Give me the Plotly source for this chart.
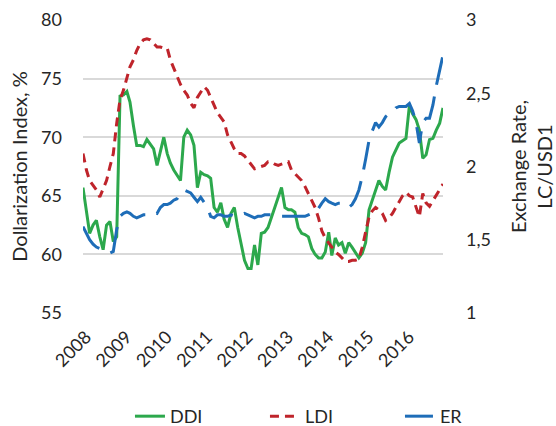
import pandas as pd
import plotly.graph_objects as go

months = pd.date_range("2008-01-01", "2016-12-01", freq="MS")

ddi = [65.7, 63.5, 61.8, 62.5, 62.9, 61.5, 60.4, 62.5, 62.8, 61.1, 61.5, 73.5,
       73.6, 73.9, 73.0, 71.0, 69.3, 69.3, 69.2, 69.8, 69.4, 69.0, 67.6, 68.8,
       70.0, 68.6, 67.8, 67.2, 66.8, 66.3, 70.0, 70.6, 70.2, 69.3, 65.7, 67.0,
       66.8, 66.7, 66.5, 64.0, 63.6, 64.4, 63.0, 62.3, 63.5, 64.0, 62.3, 61.0,
       59.5, 58.8, 58.8, 60.8, 59.1, 61.8, 61.9, 62.3, 63.2, 64.0, 64.9, 65.7,
       64.0, 63.8, 63.8, 63.6, 62.3, 61.8, 61.7, 61.5, 60.5, 60.0, 59.7, 59.7,
       60.2, 61.9, 59.9, 61.4, 60.8, 61.0, 60.1, 61.0, 60.6, 60.1, 59.7, 60.1,
       61.0, 63.8, 64.6, 65.5, 66.3, 65.8, 65.5, 67.0, 68.3, 68.9, 69.5, 69.7,
       69.9, 72.7, 72.0, 71.5, 70.6, 68.2, 68.5, 69.8, 69.9, 70.6, 71.2, 72.5]

ldi = [68.6, 67.2, 66.3, 65.9, 65.5, 64.9, 65.6, 66.3, 67.5, 68.6, 71.2, 73.2,
       74.0, 75.0, 76.0, 76.6, 77.4, 78.0, 78.3, 78.4, 78.3, 78.0, 77.7, 77.7,
       77.6, 77.6, 76.6, 75.9, 75.2, 74.5, 74.0, 73.6, 72.9, 72.5, 73.4, 73.9,
       74.3, 74.0, 73.4, 72.8, 72.1, 71.7, 71.3, 70.2, 69.6, 69.0, 68.6, 68.6,
       68.4, 68.0, 67.6, 67.3, 67.4, 67.5, 67.6, 67.9, 67.9, 67.7, 67.6, 67.7,
       67.8, 67.9, 67.2, 66.9, 66.6, 66.3, 65.8, 65.2, 64.6, 64.0, 63.1, 62.0,
       61.4, 61.0, 60.6, 60.2, 60.0, 59.7, 59.4, 59.4, 59.5, 59.5, 59.6, 60.6,
       62.0, 63.2, 63.7, 64.0, 63.8, 63.5, 62.9, 63.1, 63.5, 64.0, 64.6, 65.0,
       65.3, 65.0, 64.9, 64.0, 63.2, 65.2, 64.4, 64.1, 64.6, 65.0, 65.6, 66.0]

er = [1.59, 1.54, 1.50, 1.47, 1.45, 1.44, 1.43, 1.42, 1.41, 1.42, 1.57, 1.66,
      1.68, 1.69, 1.68, 1.66, 1.65, 1.66, 1.67, 1.67, 1.68, 1.69, 1.68, 1.72,
      1.74, 1.74, 1.75, 1.77, 1.78, 1.82, 1.84, 1.83, 1.82, 1.79, 1.76, 1.79,
      1.75, 1.72, 1.66, 1.65, 1.67, 1.67, 1.66, 1.66, 1.67, 1.66, 1.66, 1.67,
      1.68, 1.67, 1.66, 1.65, 1.66, 1.66, 1.67, 1.67, 1.67, 1.67, 1.67, 1.66,
      1.66, 1.66, 1.66, 1.66, 1.66, 1.66, 1.66, 1.67, 1.68, 1.68, 1.72, 1.75,
      1.78, 1.76, 1.75, 1.74, 1.75, 1.75, 1.73, 1.72, 1.74, 1.78, 1.84, 1.93,
      2.05, 2.18, 2.24, 2.30, 2.27, 2.30, 2.34, 2.36, 2.37, 2.40, 2.41, 2.41,
      2.41, 2.43, 2.38, 2.30, 2.16, 2.30, 2.33, 2.33, 2.42, 2.55, 2.66, 2.76]

year_ticks = pd.date_range("2008-01-01", "2016-01-01", freq="YS")
year_labels = [str(d.year) for d in year_ticks]
left_ticks = [55, 60, 65, 70, 75, 80]
right_ticks = [1, 1.5, 2, 2.5, 3]
right_labels = ["1", "1,5", "2", "2,5", "3"]

FONT = "Lato"
TXT = "#262626"

fig = go.Figure()
fig.add_trace(go.Scatter(x=months, y=ddi, name="DDI", mode="lines",
                         line=dict(color="#2CA84C", width=3)))
fig.add_trace(go.Scatter(x=months, y=ldi, name="LDI", mode="lines",
                         line=dict(color="#BF242B", width=3, dash="9px,6px")))
fig.add_trace(go.Scatter(x=months, y=er, name="ER", mode="lines", yaxis="y2",
                         line=dict(color="#1E6DB8", width=3, dash="28px,12px")))

fig.update_layout(
    width=556, height=426,
    margin=dict(l=83, r=113, t=20, b=113, autoexpand=False),
    paper_bgcolor="white", plot_bgcolor="white",
    font=dict(family=FONT, size=18, color=TXT),
    showlegend=True,
    legend=dict(orientation="h", x=-0.0001, xanchor="left", y=-0.29, yanchor="top",
                indentation=47, entrywidth=43, entrywidthmode="pixels",
                font=dict(size=18, color=TXT), bgcolor="rgba(0,0,0,0)"),
    xaxis=dict(type="date", range=[months[0], months[-1]],
               tickvals=year_ticks, ticktext=year_labels, tickangle=-45,
               showgrid=False, zeroline=False, showline=False,
               ticks="", ticklabelstandoff=9, ticklabelshift=3,
               tickfont=dict(size=18, color=TXT)),
    yaxis=dict(range=[55, 80], tickvals=left_ticks, showgrid=True,
               gridcolor="#D9D9D9", gridwidth=2, zeroline=False, showline=False,
               ticks="", ticklabelstandoff=20,
               title=dict(text="Dollarization Index, %", standoff=8,
                          font=dict(size=20, color=TXT)),
               tickfont=dict(size=18, color=TXT)),
    yaxis2=dict(range=[1, 3], tickvals=right_ticks, ticktext=right_labels,
                overlaying="y", side="right", showgrid=False, zeroline=False,
                showline=False, ticks="", ticklabelstandoff=22,
                title=dict(text="Exchange Rate,<br>LC/USD1", standoff=24,
                           font=dict(size=20, color=TXT)),
                tickfont=dict(size=18, color=TXT)),
)

fig.write_html("out.html", config={"displayModeBar": False},
               post_script="document.body.style.margin='0px';")
